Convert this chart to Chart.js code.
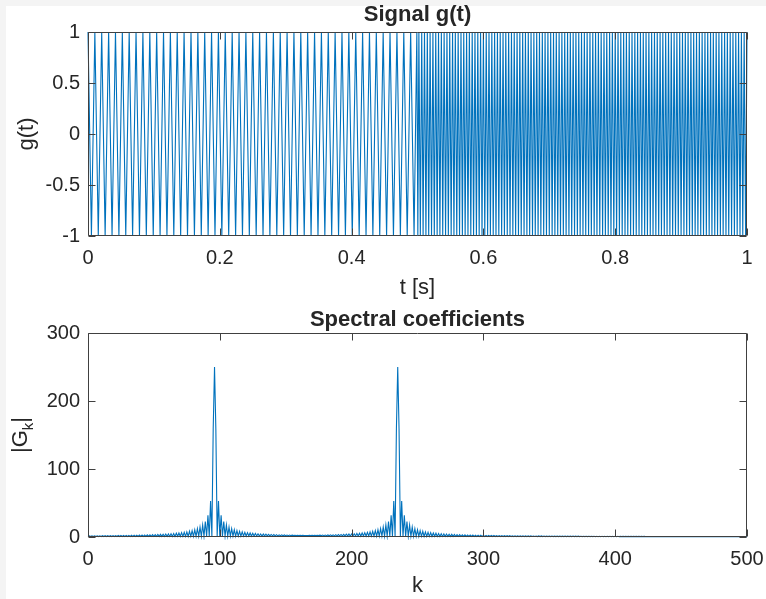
<!DOCTYPE html>
<html>
<head>
<meta charset="utf-8">
<script src="https://cdn.jsdelivr.net/npm/chart.js@4.4.0/dist/chart.umd.min.js"></script>
<style>
  html, body { margin: 0; padding: 0; background: #f4f4f4; }
  #fig { position: absolute; left: 6px; top: 6px; width: 760px; height: 593px; background: #fff; }
  canvas { position: absolute; left: 0; }
  #top { top: 0; width: 766px; height: 300px; }
  #bottom { top: 300px; width: 766px; height: 299px; }
</style>
</head>
<body>
<div id="fig"></div>
<canvas id="top" width="766" height="300"></canvas>
<canvas id="bottom" width="766" height="299"></canvas>
<script>
// --- signal g(t) : instants des sommets (+1) et des creux (-1) ---
const peakTimes = [
  0, 0.0104, 0.0208, 0.0313, 0.0417, 0.0521, 0.0625, 0.0729, 0.0833, 0.0938, 0.1042, 0.1146,
  0.125, 0.1354, 0.1458, 0.1563, 0.1667, 0.1771, 0.1875, 0.1979, 0.2083, 0.2188, 0.2292, 0.2396,
  0.25, 0.2604, 0.2708, 0.2813, 0.2917, 0.3021, 0.3125, 0.3229, 0.3333, 0.3438, 0.3542, 0.3646,
  0.375, 0.3854, 0.3958, 0.4063, 0.4167, 0.4271, 0.4375, 0.4479, 0.4583, 0.4688, 0.4792, 0.4896, 0.499,
  0.5021, 0.5064, 0.5106, 0.5149, 0.5191, 0.5234, 0.5277, 0.5319, 0.5362, 0.5404, 0.5447, 0.5489,
  0.5532, 0.5574, 0.5617, 0.566, 0.5702, 0.5745, 0.5787, 0.583, 0.5872, 0.5915, 0.5957,
  0.6, 0.6043, 0.6085, 0.6128, 0.617, 0.6213, 0.6255, 0.6298, 0.634, 0.6383, 0.6426, 0.6468,
  0.6511, 0.6553, 0.6596, 0.6638, 0.6681, 0.6723, 0.6766, 0.6809, 0.6851, 0.6894, 0.6936, 0.6979,
  0.7021, 0.7064, 0.7106, 0.7149, 0.7191, 0.7234, 0.7277, 0.7319, 0.7362, 0.7404, 0.7447, 0.7489,
  0.7532, 0.7574, 0.7617, 0.766, 0.7702, 0.7745, 0.7787, 0.783, 0.7872, 0.7915, 0.7957,
  0.8, 0.8043, 0.8085, 0.8128, 0.817, 0.8213, 0.8255, 0.8298, 0.834, 0.8383, 0.8426, 0.8468,
  0.8511, 0.8553, 0.8596, 0.8638, 0.8681, 0.8723, 0.8766, 0.8809, 0.8851, 0.8894, 0.8936, 0.8979,
  0.9021, 0.9064, 0.9106, 0.9149, 0.9191, 0.9234, 0.9277, 0.9319, 0.9362, 0.9404, 0.9447, 0.9489,
  0.9532, 0.9574, 0.9617, 0.966, 0.9702, 0.9745, 0.9787, 0.983, 0.9872, 0.9915, 0.9957, 1
];
const troughTimes = [
  0.0052, 0.0156, 0.026, 0.0365, 0.0469, 0.0573, 0.0677, 0.0781, 0.0885, 0.099, 0.1094, 0.1198,
  0.1302, 0.1406, 0.151, 0.1615, 0.1719, 0.1823, 0.1927, 0.2031, 0.2135, 0.224, 0.2344, 0.2448,
  0.2552, 0.2656, 0.276, 0.2865, 0.2969, 0.3073, 0.3177, 0.3281, 0.3385, 0.349, 0.3594, 0.3698,
  0.3802, 0.3906, 0.401, 0.4115, 0.4219, 0.4323, 0.4427, 0.4531, 0.4635, 0.474, 0.4844, 0.4948,
  0.5005, 0.5043, 0.5085, 0.5128, 0.517, 0.5213, 0.5255, 0.5298, 0.534, 0.5383, 0.5426, 0.5468,
  0.5511, 0.5553, 0.5596, 0.5638, 0.5681, 0.5723, 0.5766, 0.5809, 0.5851, 0.5894, 0.5936, 0.5979,
  0.6021, 0.6064, 0.6106, 0.6149, 0.6191, 0.6234, 0.6277, 0.6319, 0.6362, 0.6404, 0.6447, 0.6489,
  0.6532, 0.6574, 0.6617, 0.666, 0.6702, 0.6745, 0.6787, 0.683, 0.6872, 0.6915, 0.6957,
  0.7, 0.7043, 0.7085, 0.7128, 0.717, 0.7213, 0.7255, 0.7298, 0.734, 0.7383, 0.7426, 0.7468,
  0.7511, 0.7553, 0.7596, 0.7638, 0.7681, 0.7723, 0.7766, 0.7809, 0.7851, 0.7894, 0.7936, 0.7979,
  0.8021, 0.8064, 0.8106, 0.8149, 0.8191, 0.8234, 0.8277, 0.8319, 0.8362, 0.8404, 0.8447, 0.8489,
  0.8532, 0.8574, 0.8617, 0.866, 0.8702, 0.8745, 0.8787, 0.883, 0.8872, 0.8915, 0.8957,
  0.9, 0.9043, 0.9085, 0.9128, 0.917, 0.9213, 0.9255, 0.9298, 0.934, 0.9383, 0.9426, 0.9468,
  0.9511, 0.9553, 0.9596, 0.9638, 0.9681, 0.9723, 0.9766, 0.9809, 0.9851, 0.9894, 0.9936, 0.9979
];
const tTicks = [0, 0.2, 0.4, 0.6, 0.8, 1];
const gTicks = [-1, -0.5, 0, 0.5, 1];

// --- coefficients spectraux |G_k|, k = 0..500 (10 valeurs par ligne) ---
const spectrum = [
  0.7,1.7,0.7,1.7,0.7,1.7,0.7,1.8,0.7,1.8,
  0.7,1.9,0.7,1.9,0.7,2.0,0.7,2.0,0.7,2.1,
  0.7,2.1,0.7,2.2,0.8,2.2,0.8,2.3,0.8,2.4,
  0.8,2.4,0.8,2.5,0.8,2.6,0.8,2.7,0.8,2.8,
  0.8,2.9,0.8,3.0,0.8,3.1,0.8,3.2,0.9,3.4,
  0.9,3.5,0.9,3.7,0.9,3.9,0.9,4.1,0.9,4.3,
  0.9,4.5,0.9,4.8,0.9,5.1,0.9,5.5,1.0,5.9,
  1.0,6.4,1.0,6.9,1.0,7.6,1.0,8.4,1.0,9.4,
  1.0,10.6,1.0,12.2,1.1,14.5,1.1,17.7,1.1,22.7,
  1.1,31.8,1.1,53,1.1,159,250,159,1.2,53,
  1.2,31.8,1.2,22.7,1.2,17.7,1.2,14.5,1.3,12.2,
  1.3,10.6,1.3,9.4,1.3,8.4,1.3,7.6,1.4,6.9,
  1.4,6.4,1.4,5.9,1.4,5.5,1.5,5.1,1.5,4.8,
  1.5,4.5,1.5,4.3,1.6,4.1,1.6,3.9,1.6,3.7,
  1.7,3.5,1.7,3.4,1.7,3.2,1.8,3.1,1.8,3.0,
  1.9,2.9,1.9,2.8,2.0,2.7,2.0,2.6,2.1,2.5,
  2.1,2.4,2.2,2.4,2.2,2.3,2.3,2.2,2.4,2.2,
  2.4,2.1,2.5,2.1,2.6,2.0,2.7,2.0,2.8,1.9,
  2.9,1.9,3.0,1.8,3.1,1.8,3.2,1.7,3.4,1.7,
  3.5,1.7,3.7,1.6,3.9,1.6,4.1,1.6,4.3,1.5,
  4.5,1.5,4.8,1.5,5.1,1.5,5.5,1.4,5.9,1.4,
  6.4,1.4,6.9,1.4,7.6,1.3,8.4,1.3,9.4,1.3,
  10.6,1.3,12.2,1.3,14.5,1.2,17.7,1.2,22.7,1.2,
  31.8,1.2,53,1.2,159,250,159,1.1,53,1.1,
  31.8,1.1,22.7,1.1,17.7,1.1,14.5,1.1,12.2,1.0,
  10.6,1.0,9.4,1.0,8.4,1.0,7.6,1.0,6.9,1.0,
  6.4,1.0,5.9,1.0,5.5,0.9,5.1,0.9,4.8,0.9,
  4.5,0.9,4.3,0.9,4.1,0.9,3.9,0.9,3.7,0.9,
  3.5,0.9,3.4,0.9,3.2,0.8,3.1,0.8,3.0,0.8,
  2.9,0.8,2.8,0.8,2.7,0.8,2.6,0.8,2.5,0.8,
  2.4,0.8,2.4,0.8,2.3,0.8,2.2,0.8,2.2,0.7,
  2.1,0.7,2.1,0.7,2.0,0.7,2.0,0.7,1.9,0.7,
  1.9,0.7,1.8,0.7,1.8,0.7,1.7,0.7,1.7,0.7,
  1.7,0.7,1.6,0.7,1.6,0.7,1.6,0.7,1.5,0.7,
  1.5,0.6,1.5,0.6,1.5,0.6,1.4,0.6,1.4,0.6,
  1.4,0.6,1.4,0.6,1.3,0.6,1.3,0.6,1.3,0.6,
  1.3,0.6,1.3,0.6,1.2,0.6,1.2,0.6,1.2,0.6,
  1.2,0.6,1.2,0.6,1.1,0.6,1.1,0.6,1.1,0.6,
  1.1,0.6,1.1,0.6,1.1,0.5,1.1,0.5,1.0,0.5,
  1.0,0.5,1.0,0.5,1.0,0.5,1.0,0.5,1.0,0.5,
  1.0,0.5,1.0,0.5,0.9,0.5,0.9,0.5,0.9,0.5,
  0.9,0.5,0.9,0.5,0.9,0.5,0.9,0.5,0.9,0.5,
  0.9,0.5,0.9,0.5,0.8,0.5,0.8,0.5,0.8,0.5,
  0.8,0.5,0.8,0.5,0.8,0.5,0.8,0.5,0.8,0.5,
  0.8,0.5,0.8,0.4,0.8,0.4,0.7,0.4,0.7,0.4,
  0.7,0.4,0.7,0.4,0.7,0.4,0.7,0.4,0.7,0.4,
  0.7,0.4,0.7,0.4,0.7,0.4,0.7,0.4,0.7,0.4,
  0.7,0.4,0.7,0.4,0.7,0.4,0.7,0.4,0.7,0.4,
  0.6,0.4,0.6,0.4,0.6,0.4,0.6,0.4,0.6,0.4,
  0.6,0.4,0.6,0.4,0.6,0.4,0.6,0.4,0.6,0.4,
  0.6
];
const kTicks = [0, 100, 200, 300, 400, 500];
const gkTicks = [0, 100, 200, 300];

// --- style "MATLAB" ---
const FONT = "'Liberation Sans', Arial, Helvetica, sans-serif";
const TEXT = '#262626';
const BLUE = '#0072BD';

// cadre + graduations intérieures + titres, dessinés par-dessus les données
function axesDecor(cfg) {
  return {
    id: 'axesDecor',
    afterDatasetsDraw(chart) {
      const { ctx, chartArea: a, scales: { x, y } } = chart;
      const L = Math.round(a.left) + 0.5, R = Math.round(a.right) - 0.5;
      const T = Math.round(a.top) + 0.5, B = Math.round(a.bottom) - 0.5;
      ctx.save();
      ctx.strokeStyle = '#404040';
      ctx.lineWidth = 1;
      ctx.beginPath();
      ctx.rect(L, T, R - L, B - T);
      x.ticks.forEach(t => {
        const px = Math.round(x.getPixelForValue(t.value)) + 0.5;
        ctx.moveTo(px, B); ctx.lineTo(px, B - 7);
        ctx.moveTo(px, T); ctx.lineTo(px, T + 7);
      });
      y.ticks.forEach(t => {
        const py = Math.round(y.getPixelForValue(t.value)) + 0.5;
        ctx.moveTo(L, py); ctx.lineTo(L + 7, py);
        ctx.moveTo(R, py); ctx.lineTo(R - 7, py);
      });
      ctx.stroke();

      const cx = (a.left + a.right) / 2;
      ctx.fillStyle = TEXT;
      ctx.textAlign = 'center';
      ctx.textBaseline = 'alphabetic';
      ctx.font = `bold 22px ${FONT}`;
      ctx.fillText(cfg.title, cx, cfg.titleY);
      ctx.font = `22px ${FONT}`;
      ctx.fillText(cfg.xLabel, cx, cfg.xLabelY);

      // titre de l'axe y, tourné
      ctx.translate(cfg.yLabelX, (a.top + a.bottom) / 2);
      ctx.rotate(-Math.PI / 2);
      if (cfg.ySub) {
        ctx.font = `22px ${FONT}`;
        const w1 = ctx.measureText(cfg.yLabel).width;
        const w3 = ctx.measureText(cfg.yEnd).width;
        ctx.font = `15px ${FONT}`;
        const w2 = ctx.measureText(cfg.ySub).width;
        let x0 = -(w1 + w2 + w3) / 2;
        ctx.textAlign = 'left';
        ctx.font = `22px ${FONT}`;
        ctx.fillText(cfg.yLabel, x0, 0);
        ctx.font = `15px ${FONT}`;
        ctx.fillText(cfg.ySub, x0 + w1, 6);
        ctx.font = `22px ${FONT}`;
        ctx.fillText(cfg.yEnd, x0 + w1 + w2, 0);
      } else {
        ctx.fillText(cfg.yLabel, 0, 0);
      }
      ctx.restore();
    }
  };
}

function axisScale(ticksList, min, max, fitFn, pad) {
  return {
    type: 'linear', min, max,
    afterBuildTicks: s => { s.ticks = ticksList.map(v => ({ value: v })); },
    afterFit: s => {
      fitFn(s);
      // pas de marge automatique pour les étiquettes des extrémités
      s.paddingLeft = 0; s.paddingRight = 0; s.paddingTop = 0; s.paddingBottom = 0;
    },
    grid: { display: false, drawTicks: false },
    border: { display: false },
    ticks: {
      padding: pad, color: TEXT, autoSkip: false, maxRotation: 0,
      font: { family: FONT, size: 20 },
      callback: v => String(v)
    }
  };
}

function makeChart(id, points, xt, xmin, xmax, yt, ymin, ymax, padTop, xHeight, decor) {
  return new Chart(document.getElementById(id), {
    type: 'line',
    data: {
      datasets: [{
        data: points, borderColor: BLUE, borderWidth: 1.1,
        pointRadius: 0, tension: 0, fill: false, clip: 3
      }]
    },
    options: {
      responsive: false, animation: false, parsing: false, events: [],
      layout: { padding: { top: padTop, right: 19, bottom: 0, left: 0 } },
      plugins: { legend: { display: false }, tooltip: { enabled: false } },
      scales: {
        x: axisScale(xt, xmin, xmax, s => { s.height = xHeight; }, 10),
        y: axisScale(yt, ymin, ymax, s => { s.width = 88; }, 8)
      }
    },
    plugins: [axesDecor(decor)]
  });
}

// --- données -> points ---
const signalPoints = peakTimes.map(t => ({ x: t, y: 1 }))
  .concat(troughTimes.map(t => ({ x: t, y: -1 })))
  .sort((p, q) => p.x - q.x);
const spectrumPoints = spectrum.map((v, k) => ({ x: k, y: v }));

makeChart('top', signalPoints, tTicks, 0, 1, gTicks, -1, 1, 32, 64,
  { title: 'Signal g(t)', titleY: 21, xLabel: 't [s]', xLabelY: 294, yLabel: 'g(t)', yLabelX: 33 });

makeChart('bottom', spectrumPoints, kTicks, 0, 500, gkTicks, 0, 300, 33, 62,
  { title: 'Spectral coefficients', titleY: 26, xLabel: 'k', xLabelY: 292,
    yLabel: '|G', ySub: 'k', yEnd: '|', yLabelX: 27 });
</script>
</body>
</html>
